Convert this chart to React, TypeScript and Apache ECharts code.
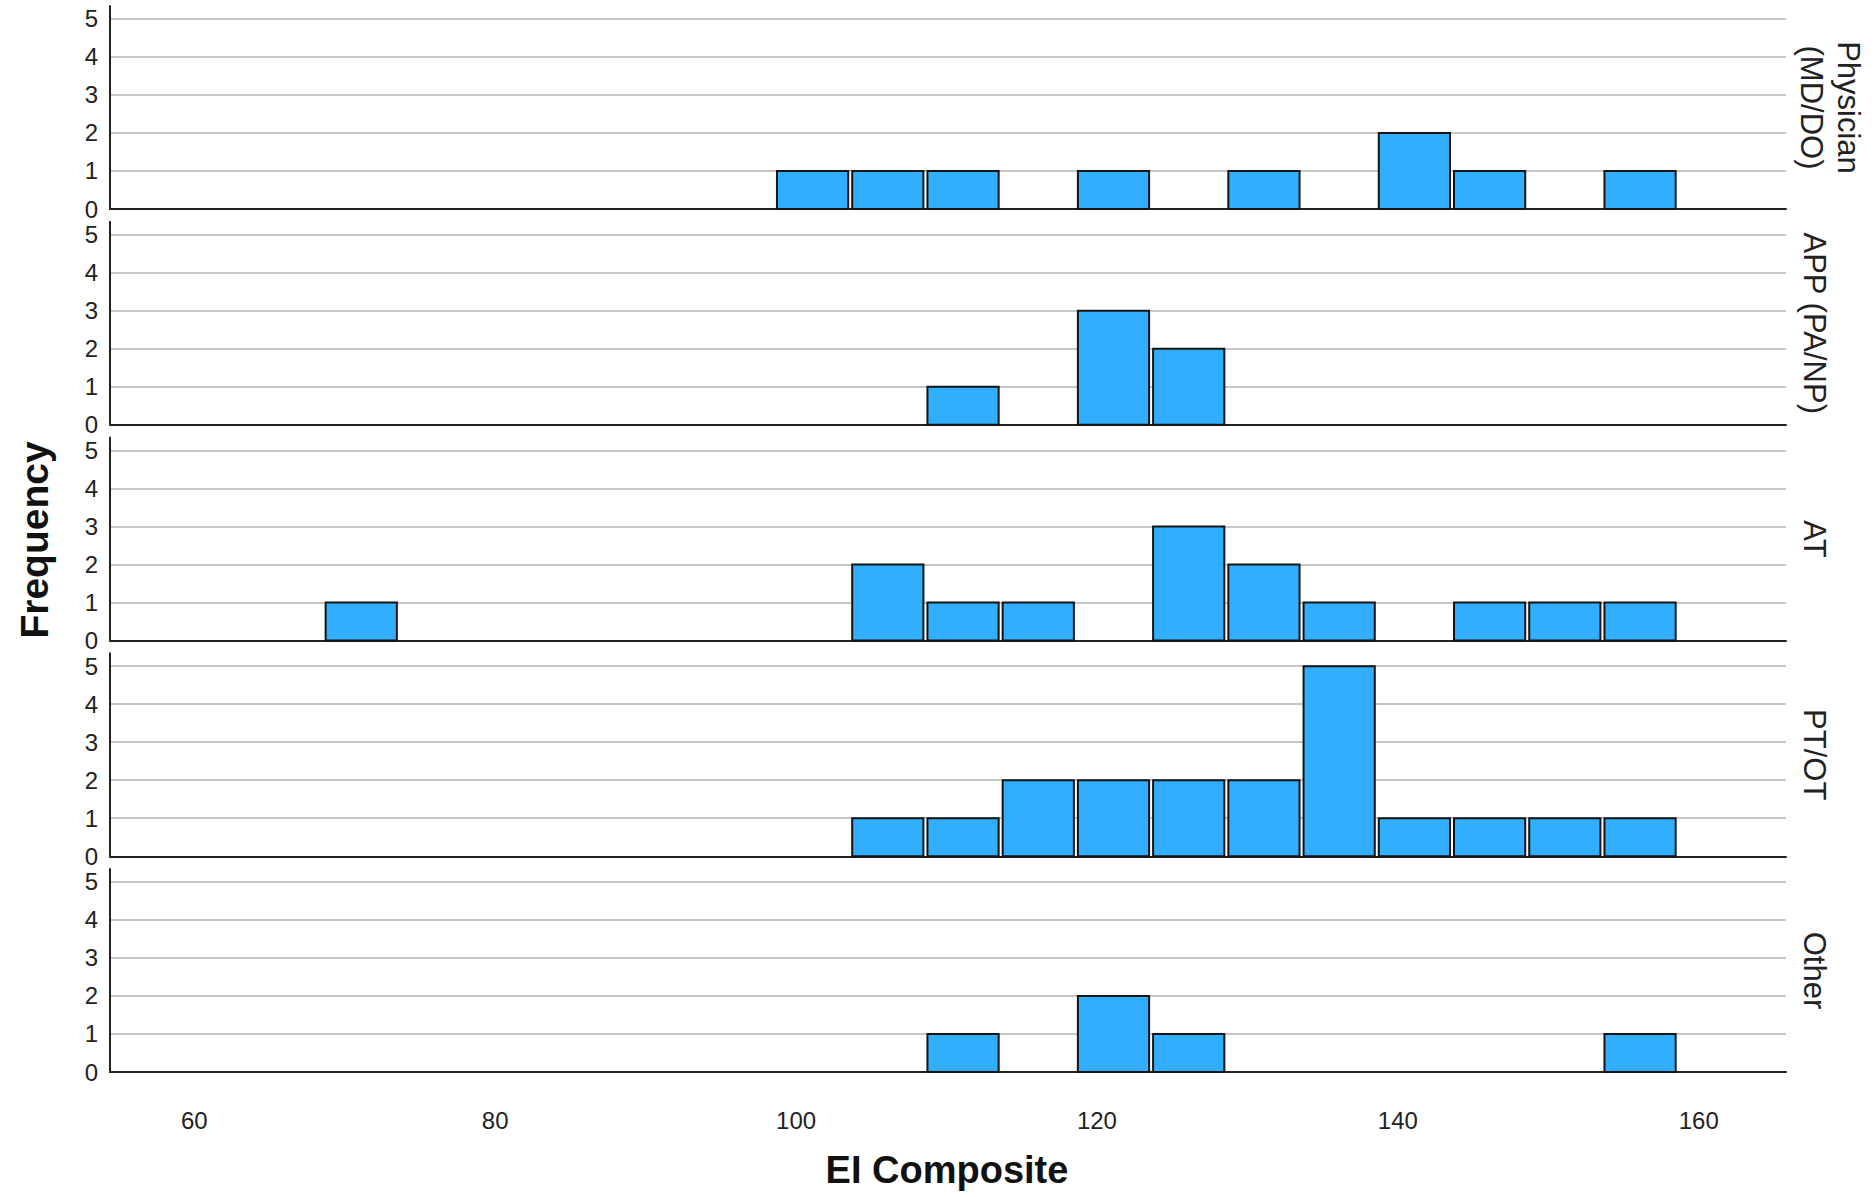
import React, { useEffect, useRef } from "react";
import * as echarts from "echarts";

// ---- data ----
const groupLabels = ["Physician\n(MD/DO)", "APP (PA/NP)", "AT", "PT/OT", "Other"];
const binStarts = [68.6, 73.6, 78.6, 83.6, 88.6, 93.6, 98.6, 103.6, 108.6, 113.6, 118.6, 123.6, 128.6, 133.6, 138.6, 143.6, 148.6, 153.6];
const binEnds = [73.6, 78.6, 83.6, 88.6, 93.6, 98.6, 103.6, 108.6, 113.6, 118.6, 123.6, 128.6, 133.6, 138.6, 143.6, 148.6, 153.6, 158.6];
const physicianCounts = [0, 0, 0, 0, 0, 0, 1, 1, 1, 0, 1, 0, 1, 0, 2, 1, 0, 1];
const appCounts = [0, 0, 0, 0, 0, 0, 0, 0, 1, 0, 3, 2, 0, 0, 0, 0, 0, 0];
const atCounts = [1, 0, 0, 0, 0, 0, 0, 2, 1, 1, 0, 3, 2, 1, 0, 1, 1, 1];
const ptotCounts = [0, 0, 0, 0, 0, 0, 0, 1, 1, 2, 2, 2, 2, 5, 1, 1, 1, 1];
const otherCounts = [0, 0, 0, 0, 0, 0, 0, 0, 1, 0, 2, 1, 0, 0, 0, 0, 0, 1];
const countsByGroup = [physicianCounts, appCounts, atCounts, ptotCounts, otherCounts];
const xTickValues = [60, 80, 100, 120, 140, 160];
const yTickValues = [0, 1, 2, 3, 4, 5];
const xTitle = "EI Composite";
const yTitle = "Frequency";

// ---- layout ----
const W = 1875;
const H = 1197;
const LEFT = 110;
const RIGHT = 89;
const BASELINES = [209, 424.75, 640.5, 856.25, 1072];
const PANEL_H = 203;
const X_MIN = 54.4;
const X_MAX = 165.8;
const Y_MAX = 5.34;
const FONT = "'Liberation Sans', Arial, sans-serif";
const BAR_FILL = "#31aefe";

function buildOption() {
  const grids: any[] = [];
  const xAxes: any[] = [];
  const yAxes: any[] = [];
  const series: any[] = [];
  const graphics: any[] = [];

  countsByGroup.forEach((counts, gi) => {
    const top = BASELINES[gi] - PANEL_H;
    const isLast = gi === countsByGroup.length - 1;
    grids.push({ left: LEFT, right: RIGHT, top, height: PANEL_H, containLabel: false });
    xAxes.push({
      type: "value",
      gridIndex: gi,
      min: X_MIN,
      max: X_MAX,
      minInterval: 20,
      maxInterval: 20,
      splitNumber: 5,
      axisLine: { show: true, onZero: false, lineStyle: { color: "#222", width: 2 } },
      axisTick: { show: false },
      splitLine: { show: false },
      axisLabel: {
        show: isLast,
        showMinLabel: false,
        showMaxLabel: false,
        margin: 36,
        fontSize: 24,
        fontFamily: FONT,
        color: "#222",
        formatter: (v: number) => {
          const r = Math.round(v);
          return Math.abs(v - r) < 1e-6 && xTickValues.includes(r) ? String(r) : "";
        },
      },
    });
    yAxes.push({
      type: "value",
      gridIndex: gi,
      min: 0,
      max: Y_MAX,
      minInterval: 1,
      maxInterval: 1,
      splitNumber: 5,
      axisLine: { show: true, lineStyle: { color: "#222", width: 2 } },
      axisTick: { show: false },
      splitLine: {
        show: true,
        showMinLine: false,
        showMaxLine: false,
        lineStyle: { color: "#b4b4b4", width: 1.6 },
      },
      axisLabel: {
        show: true,
        showMaxLabel: false,
        margin: 12,
        fontSize: 24,
        fontFamily: FONT,
        color: "#222",
        formatter: (v: number) => {
          const r = Math.round(v);
          return Math.abs(v - r) < 1e-6 && yTickValues.includes(r) ? String(r) : "";
        },
      },
    });
    const data = binStarts
      .map((s, i) => [s, binEnds[i], counts[i]])
      .filter((d) => d[2] > 0);
    series.push({
      type: "custom",
      xAxisIndex: gi,
      yAxisIndex: gi,
      encode: { x: [0, 1], y: 2 },
      data,
      z: 3,
      renderItem: (params: any, api: any) => {
        const x0 = api.value(0);
        const x1 = api.value(1);
        const c = api.value(2);
        const p0 = api.coord([x0, c]);
        const p1 = api.coord([x1, 0]);
        return {
          type: "rect",
          shape: { x: p0[0] + 2, y: p0[1], width: p1[0] - p0[0] - 4, height: p1[1] - p0[1] },
          style: { fill: BAR_FILL, stroke: "#141414", lineWidth: 2 },
        };
      },
    });
    const isTwoLine = groupLabels[gi].includes("\n");
    graphics.push({
      type: "text",
      x: isTwoLine ? 1830 : 1814,
      y: (top + BASELINES[gi]) / 2,
      rotation: -Math.PI / 2,
      style: {
        text: groupLabels[gi],
        font: `31px ${FONT}`,
        fill: "#222",
        align: "center",
        verticalAlign: "middle",
        lineHeight: 37,
      },
    });
  });

  graphics.push({
    type: "text",
    x: 34,
    y: 540,
    rotation: Math.PI / 2,
    style: {
      text: yTitle,
      font: `bold 39px ${FONT}`,
      fill: "#111",
      align: "center",
      verticalAlign: "middle",
    },
  });
  graphics.push({
    type: "text",
    x: 947,
    y: 1170,
    style: {
      text: xTitle,
      font: `bold 38px ${FONT}`,
      fill: "#111",
      align: "center",
      verticalAlign: "middle",
    },
  });

  return {
    animation: false,
    backgroundColor: "#ffffff",
    grid: grids,
    xAxis: xAxes,
    yAxis: yAxes,
    series,
    graphic: graphics,
  };
}

export default function App() {
  const ref = useRef<HTMLDivElement>(null);
  useEffect(() => {
    if (!ref.current) return;
    const chart = echarts.init(ref.current, null, { renderer: "svg", width: W, height: H });
    chart.setOption(buildOption() as any);
    return () => chart.dispose();
  }, []);
  return (
    <div
      ref={ref}
      style={{ position: "fixed", left: 0, top: 0, width: W, height: H, background: "#fff" }}
    />
  );
}
